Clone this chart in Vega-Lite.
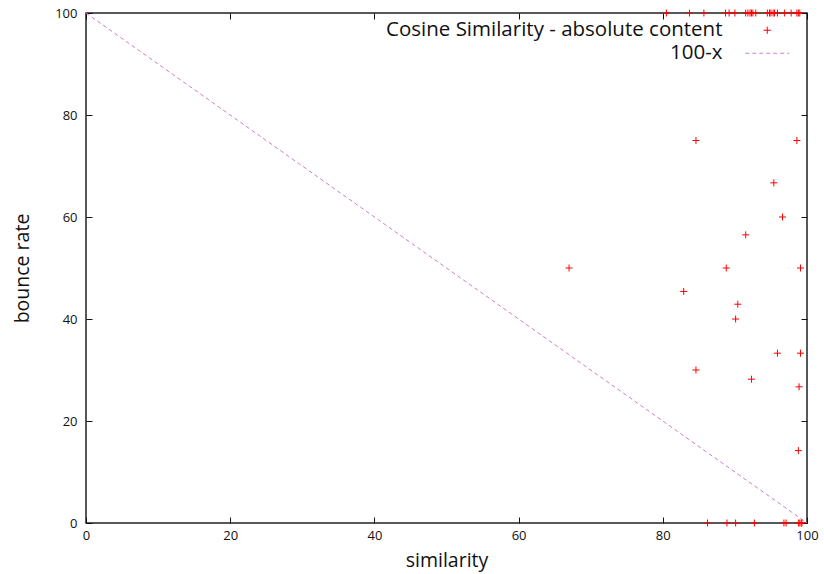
{
  "$schema": "https://vega.github.io/schema/vega-lite/v6.json",
  "width": 721,
  "height": 510,
  "autosize": "none",
  "padding": {"left": 86, "top": 13, "right": 17, "bottom": 51},
  "background": "white",
  "config": {
    "view": {"stroke": "#222", "strokeWidth": 1.5},
    "font": "Open Sans",
    "axis": {"grid": false, "domain": false, "tickColor": "#111", "tickWidth": 1, "labelColor": "#111", "titleColor": "#111", "labelFont": "Open Sans", "titleFont": "Open Sans", "labelFontSize": 13, "titleFontSize": 19.5, "titleFontWeight": "normal", "labelFlush": false}
  },
  "datasets": {
    "pts": [
      {"similarity": 80.5, "bounce": 100, "series": "Cosine Similarity - absolute content"},
      {"similarity": 83.7, "bounce": 100, "series": "Cosine Similarity - absolute content"},
      {"similarity": 85.7, "bounce": 100, "series": "Cosine Similarity - absolute content"},
      {"similarity": 88.7, "bounce": 100, "series": "Cosine Similarity - absolute content"},
      {"similarity": 89.2, "bounce": 100, "series": "Cosine Similarity - absolute content"},
      {"similarity": 90.0, "bounce": 100, "series": "Cosine Similarity - absolute content"},
      {"similarity": 91.5, "bounce": 100, "series": "Cosine Similarity - absolute content"},
      {"similarity": 91.8, "bounce": 100, "series": "Cosine Similarity - absolute content"},
      {"similarity": 92.1, "bounce": 100, "series": "Cosine Similarity - absolute content"},
      {"similarity": 92.3, "bounce": 100, "series": "Cosine Similarity - absolute content"},
      {"similarity": 92.5, "bounce": 100, "series": "Cosine Similarity - absolute content"},
      {"similarity": 92.9, "bounce": 100, "series": "Cosine Similarity - absolute content"},
      {"similarity": 94.5, "bounce": 100, "series": "Cosine Similarity - absolute content"},
      {"similarity": 94.8, "bounce": 100, "series": "Cosine Similarity - absolute content"},
      {"similarity": 95.0, "bounce": 100, "series": "Cosine Similarity - absolute content"},
      {"similarity": 95.3, "bounce": 100, "series": "Cosine Similarity - absolute content"},
      {"similarity": 95.5, "bounce": 100, "series": "Cosine Similarity - absolute content"},
      {"similarity": 95.9, "bounce": 100, "series": "Cosine Similarity - absolute content"},
      {"similarity": 96.9, "bounce": 100, "series": "Cosine Similarity - absolute content"},
      {"similarity": 97.8, "bounce": 100, "series": "Cosine Similarity - absolute content"},
      {"similarity": 98.6, "bounce": 100, "series": "Cosine Similarity - absolute content"},
      {"similarity": 98.8, "bounce": 100, "series": "Cosine Similarity - absolute content"},
      {"similarity": 99.0, "bounce": 100, "series": "Cosine Similarity - absolute content"},
      {"similarity": 84.6, "bounce": 75.0, "series": "Cosine Similarity - absolute content"},
      {"similarity": 98.6, "bounce": 75.0, "series": "Cosine Similarity - absolute content"},
      {"similarity": 95.4, "bounce": 66.7, "series": "Cosine Similarity - absolute content"},
      {"similarity": 96.6, "bounce": 60.0, "series": "Cosine Similarity - absolute content"},
      {"similarity": 91.5, "bounce": 56.5, "series": "Cosine Similarity - absolute content"},
      {"similarity": 67.0, "bounce": 50.0, "series": "Cosine Similarity - absolute content"},
      {"similarity": 88.8, "bounce": 50.0, "series": "Cosine Similarity - absolute content"},
      {"similarity": 99.1, "bounce": 50.0, "series": "Cosine Similarity - absolute content"},
      {"similarity": 82.9, "bounce": 45.4, "series": "Cosine Similarity - absolute content"},
      {"similarity": 90.4, "bounce": 42.9, "series": "Cosine Similarity - absolute content"},
      {"similarity": 90.1, "bounce": 40.0, "series": "Cosine Similarity - absolute content"},
      {"similarity": 95.9, "bounce": 33.3, "series": "Cosine Similarity - absolute content"},
      {"similarity": 99.1, "bounce": 33.3, "series": "Cosine Similarity - absolute content"},
      {"similarity": 84.6, "bounce": 30.0, "series": "Cosine Similarity - absolute content"},
      {"similarity": 92.3, "bounce": 28.2, "series": "Cosine Similarity - absolute content"},
      {"similarity": 98.9, "bounce": 26.7, "series": "Cosine Similarity - absolute content"},
      {"similarity": 98.8, "bounce": 14.2, "series": "Cosine Similarity - absolute content"},
      {"similarity": 86.2, "bounce": 0, "series": "Cosine Similarity - absolute content"},
      {"similarity": 88.9, "bounce": 0, "series": "Cosine Similarity - absolute content"},
      {"similarity": 90.1, "bounce": 0, "series": "Cosine Similarity - absolute content"},
      {"similarity": 92.7, "bounce": 0, "series": "Cosine Similarity - absolute content"},
      {"similarity": 96.8, "bounce": 0, "series": "Cosine Similarity - absolute content"},
      {"similarity": 97.1, "bounce": 0, "series": "Cosine Similarity - absolute content"},
      {"similarity": 98.8, "bounce": 0, "series": "Cosine Similarity - absolute content"},
      {"similarity": 99.0, "bounce": 0, "series": "Cosine Similarity - absolute content"},
      {"similarity": 99.2, "bounce": 0, "series": "Cosine Similarity - absolute content"},
      {"similarity": 99.3, "bounce": 0, "series": "Cosine Similarity - absolute content"}
    ],
    "ref": [
      {"similarity": 0, "bounce": 100, "series": "100-x"},
      {"similarity": 100, "bounce": 0, "series": "100-x"}
    ]
  },
  "layer": [
    {
      "data": {"name": "ref"},
      "mark": {"type": "line", "strokeWidth": 1, "strokeDash": [4, 3], "clip": true},
      "encoding": {
        "x": {"field": "similarity", "type": "quantitative", "scale": {"domain": [0, 100], "nice": false},
          "axis": {"orient": "bottom", "values": [0, 20, 40, 60, 80, 100], "tickSize": -6, "labelPadding": 12, "title": "similarity", "titlePadding": 9}},
        "y": {"field": "bounce", "type": "quantitative", "scale": {"domain": [0, 100], "nice": false},
          "axis": {"orient": "left", "values": [0, 20, 40, 60, 80, 100], "tickSize": -6, "labelPadding": 15, "title": "bounce rate", "titlePadding": 22}},
        "color": {"field": "series", "type": "nominal",
          "scale": {"domain": ["Cosine Similarity - absolute content", "100-x"], "range": ["#ff0000", "#cc80c0"]},
          "legend": {
            "title": null, "orient": "none", "legendX": 671, "legendY": 7, "padding": 0,
            "symbolSize": 121, "labelAlign": "right", "labelOffset": -55, "labelFontSize": 20.5, "labelFont": "Open Sans", "labelColor": "#111",
            "rowPadding": 2, "labelLimit": 600,
            "encode": {
              "symbols": {"update": {
                "shape": [{"test": "datum.value === '100-x'", "value": "M-4,0H4"}, {"value": "M-0.65,0H0.65M0,-0.65V0.65"}],
                "strokeDash": [{"test": "datum.value === '100-x'", "value": [4, 3]}, {"value": []}],
                "strokeWidth": {"value": 1},
                "fill": {"value": "transparent"},
                "opacity": {"value": 1}
              }}
            }
          }}
      }
    },
    {
      "data": {"name": "pts"},
      "mark": {"type": "point", "shape": "M-1,0H1M0,-1V1", "size": 49, "filled": false, "strokeWidth": 1, "opacity": 1, "clip": false},
      "encoding": {
        "x": {"field": "similarity", "type": "quantitative",
          "axis": {"orient": "top", "values": [0, 20, 40, 60, 80, 100], "tickSize": -6, "labels": false, "title": null}},
        "y": {"field": "bounce", "type": "quantitative",
          "axis": {"orient": "right", "values": [0, 20, 40, 60, 80, 100], "tickSize": -6, "labels": false, "title": null}},
        "color": {"field": "series", "type": "nominal"}
      }
    }
  ]
}
